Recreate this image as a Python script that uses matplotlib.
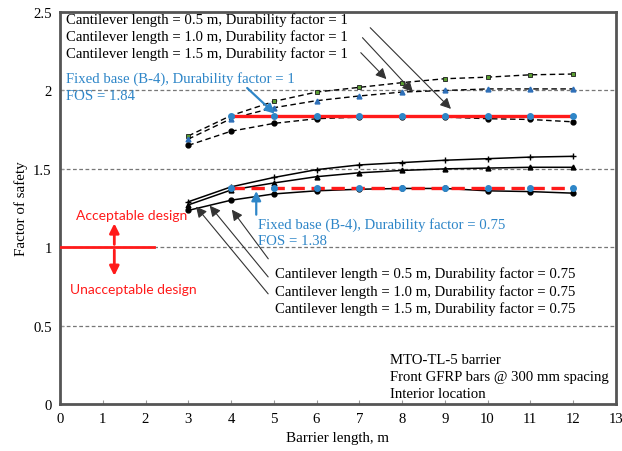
import matplotlib
matplotlib.use("Agg")
import matplotlib.pyplot as plt

# barrier length, m
lengths = [3, 4, 5, 6, 7, 8, 9, 10, 11, 12]

# durability factor = 1 (dashed)
df1_05 = [1.71, 1.84, 1.93, 1.99, 2.02, 2.05, 2.075, 2.085, 2.10, 2.105]
df1_10 = [1.69, 1.82, 1.89, 1.935, 1.965, 1.99, 2.0, 2.01, 2.01, 2.01]
df1_15 = [1.65, 1.74, 1.79, 1.82, 1.83, 1.83, 1.83, 1.82, 1.815, 1.80]

# durability factor = 0.75 (solid)
df075_05 = [1.29, 1.385, 1.445, 1.495, 1.525, 1.54, 1.555, 1.565, 1.575, 1.58]
df075_10 = [1.27, 1.365, 1.41, 1.45, 1.475, 1.49, 1.50, 1.505, 1.51, 1.51]
df075_15 = [1.235, 1.30, 1.34, 1.36, 1.37, 1.375, 1.375, 1.36, 1.355, 1.345]

# fixed base (B-4)
fixed_x = [4, 5, 6, 7, 8, 9, 10, 11, 12]
fos_df1 = 1.84
fos_df075 = 1.38

x_ticks = list(range(0, 14))
y_ticks = [0, 0.5, 1, 1.5, 2, 2.5]

serif = "Liberation Serif"
blue = "#2e86c8"
red = "#ff1a1a"

plt.rcParams["font.family"] = serif

fig = plt.figure(figsize=(6.22, 4.52), dpi=100)
ax = fig.add_axes([0.0965, 0.104, 0.8935, 0.867])

for y in [0.5, 1, 1.5, 2]:
    ax.axhline(y, color="#777777", lw=0.9, ls=(0, (3, 2)), zorder=1)

dash = (0, (4, 2.5))
ax.plot(lengths, df1_05, color="black", lw=1.0, ls=dash, marker="s", ms=3.2,
        mfc="#5a9e32", mec="#1a1a1a", mew=0.6, zorder=3)
ax.plot(lengths, df1_10, color="black", lw=1.0, ls=dash, marker="^", ms=3.5,
        mfc="#2e6fb8", mec="#2e6fb8", zorder=3)
ax.plot(lengths, df1_15, color="black", lw=1.0, ls=dash, marker="o", ms=3.5,
        mfc="black", mec="black", zorder=3)

ax.plot(lengths, df075_05, color="black", lw=1.1, marker="+", ms=4, mew=1.0, zorder=3)
ax.plot(lengths, df075_10, color="black", lw=1.1, marker="^", ms=3.5, zorder=3)
ax.plot(lengths, df075_15, color="black", lw=1.1, marker="o", ms=3.5, zorder=3)

ax.plot(fixed_x, [fos_df1] * len(fixed_x), color=red, lw=2.4, zorder=4)
ax.plot(fixed_x, [fos_df1] * len(fixed_x), ls="none", marker="o", ms=4,
        mfc=blue, mec=blue, zorder=5)
ax.plot(fixed_x, [fos_df075] * len(fixed_x), color=red, lw=2.4, ls=(0, (4, 2)), zorder=4)
ax.plot(fixed_x, [fos_df075] * len(fixed_x), ls="none", marker="o", ms=4,
        mfc=blue, mec=blue, zorder=5)

# acceptable / unacceptable marker
ax.plot([0, 2.2], [1, 1], color=red, lw=2.0, zorder=4)
ax.annotate("", xy=(1.27, 1.17), xytext=(1.27, 1.0),
            arrowprops=dict(arrowstyle="-|>", color=red, lw=2, mutation_scale=14))
ax.annotate("", xy=(1.27, 0.80), xytext=(1.27, 1.0),
            arrowprops=dict(arrowstyle="-|>", color=red, lw=2, mutation_scale=14))
ax.text(1.68, 1.207, "Acceptable design", color=red, fontsize=10, family="Lato",
        ha="center", va="center")
ax.text(1.72, 0.733, "Unacceptable design", color=red, fontsize=10, family="Lato",
        ha="center", va="center")

# top labels
fs = 10.6
top_labels = ["Cantilever length = 0.5 m, Durability factor = 1",
              "Cantilever length = 1.0 m, Durability factor = 1",
              "Cantilever length = 1.5 m, Durability factor = 1"]
for i, t in enumerate(top_labels):
    ax.text(0.14, 2.455 - i * 0.107, t, fontsize=fs, va="center", ha="left")

arr = dict(arrowstyle="-|>", color="#333333", lw=0.8, mutation_scale=16)
ax.annotate("", xy=(9.19, 1.87), xytext=(7.21, 2.413), arrowprops=arr)
ax.annotate("", xy=(8.30, 1.977), xytext=(7.03, 2.35), arrowprops=arr)
ax.annotate("", xy=(7.68, 2.06), xytext=(6.99, 2.254), arrowprops=arr)

ax.text(0.14, 2.079, "Fixed base (B-4), Durability factor = 1", fontsize=fs,
        color=blue, va="center", ha="left")
ax.text(0.14, 1.966, "FOS = 1.84", fontsize=fs, color=blue, va="center", ha="left")
ax.annotate("", xy=(5.07, 1.84), xytext=(4.33, 2.028),
            arrowprops=dict(arrowstyle="-|>", color=blue, lw=1.6, mutation_scale=14))

ax.text(4.64, 1.148, "Fixed base (B-4), Durability factor = 0.75", fontsize=fs,
        color=blue, va="center", ha="left")
ax.text(4.64, 1.042, "FOS = 1.38", fontsize=fs, color=blue, va="center", ha="left")
ax.annotate("", xy=(4.59, 1.376), xytext=(4.59, 1.19),
            arrowprops=dict(arrowstyle="-|>", color=blue, lw=1.6, mutation_scale=14))

bottom_labels = ["Cantilever length = 0.5 m, Durability factor = 0.75",
                 "Cantilever length = 1.0 m, Durability factor = 0.75",
                 "Cantilever length = 1.5 m, Durability factor = 0.75"]
for i, t in enumerate(bottom_labels):
    ax.text(5.03, 0.835 - i * 0.112, t, fontsize=fs, va="center", ha="left")

ax.annotate("", xy=(3.98, 1.254), xytext=(4.91, 0.912), arrowprops=arr)
ax.annotate("", xy=(3.46, 1.279), xytext=(4.91, 0.797), arrowprops=arr)
ax.annotate("", xy=(3.14, 1.273), xytext=(4.91, 0.689), arrowprops=arr)

notes = ["MTO-TL-5 barrier", "Front GFRP bars @ 300 mm spacing", "Interior location"]
for i, t in enumerate(notes):
    ax.text(7.72, 0.287 - i * 0.109, t, fontsize=fs, va="center", ha="left")

ax.set_xlim(0, 13)
ax.set_ylim(0, 2.5)
ax.set_xticks(x_ticks)
ax.set_yticks(y_ticks)
ax.set_yticklabels(["0", "0.5", "1", "1.5", "2", "2.5"])
ax.tick_params(direction="in", length=3, color="#999999", labelsize=10.6, pad=6)
for s in ax.spines.values():
    s.set_color("#555555")
    s.set_linewidth(2.0)
ax.set_xlabel("Barrier length, m", fontsize=10.8)
ax.set_ylabel("Factor of safety", fontsize=10.8)

fig.savefig("out.png", dpi=100)
